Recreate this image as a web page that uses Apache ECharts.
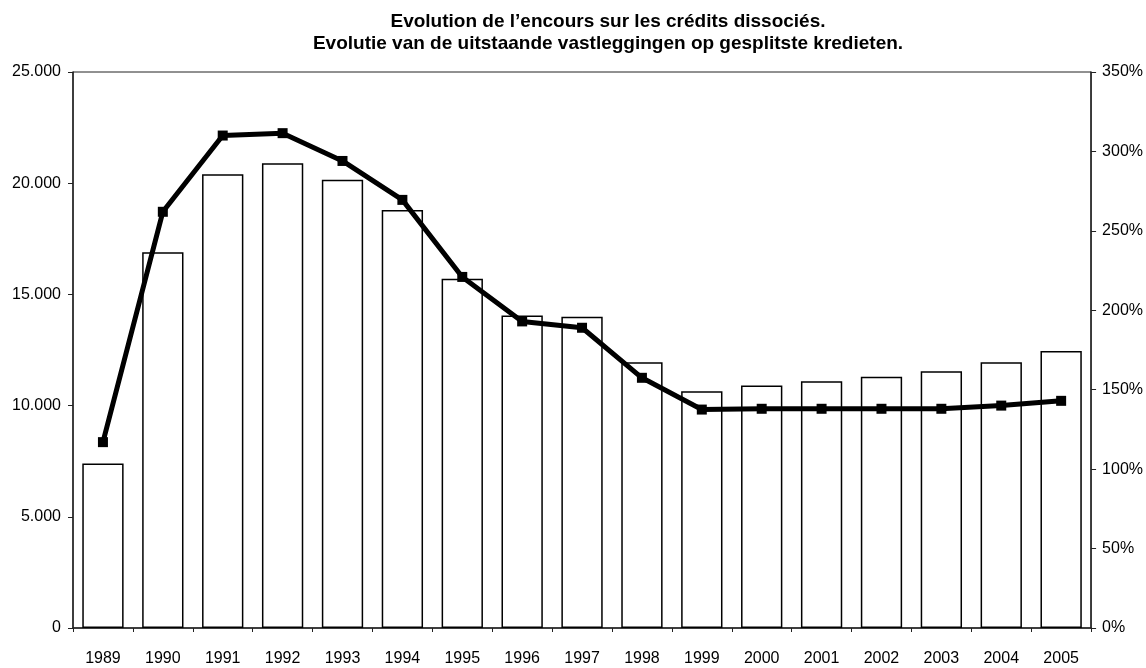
<!DOCTYPE html>
<html>
<head>
<meta charset="utf-8">
<title>Evolution de l'encours</title>
<script src="https://cdn.jsdelivr.net/npm/echarts@6/dist/echarts.min.js"></script>
<style>
 html, body { margin: 0; padding: 0; background: #fff; }
 #main { width: 1146px; height: 668px; }
</style>
</head>
<body>
<div id="main"></div>
<script>
// jaren / années
var years = ['1989','1990','1991','1992','1993','1994','1995','1996','1997',
             '1998','1999','2000','2001','2002','2003','2004','2005'];
// encours (staafjes, linker as)
var encours = [7400, 16900, 20400, 20900, 20150, 18800, 15700, 14050, 14000,
               11950, 10650, 10900, 11100, 11300, 11550, 11950, 12450];
// verhouding in % (lijn, rechter as)
var ratio = [117, 262, 310, 311.5, 294, 269.5, 221, 193, 189,
             157.5, 137.5, 138, 138, 138, 138, 140, 143];

var dom = document.getElementById('main');
var myChart = echarts.init(dom);
var font = 'Liberation Sans, Arial, sans-serif';

var option = {
  backgroundColor: '#fff',
  animation: false,
  title: {
    text: 'Evolution de l\u2019encours sur les crédits dissociés.\nEvolutie van de uitstaande vastleggingen op gesplitste kredieten.',
    left: 603,
    top: 6,
    textAlign: 'center',
    textStyle: {
      fontFamily: font,
      fontWeight: 'bold',
      fontSize: 19,
      lineHeight: 22,
      color: '#000'
    }
  },
  grid: {
    left: 73, right: 53, top: 72, bottom: 40,
    show: true,
    borderColor: '#222',
    borderWidth: 1
  },
  xAxis: [{
    type: 'category',
    data: years,
    axisLine: { lineStyle: { color: '#222', width: 1.5 } },
    axisTick: { show: true, length: 4, lineStyle: { color: '#222' } },
    axisLabel: {
      interval: 0,
      margin: 23,
      fontFamily: font,
      fontSize: 16,
      color: '#000'
    }
  }],
  yAxis: [{
    type: 'value',
    min: 0, max: 25000, interval: 5000,
    splitLine: { show: false }, // geen rasterlijnen
    axisLine: { show: true, lineStyle: { color: '#222', width: 1.5 } },
    axisTick: { show: true, length: 5, lineStyle: { color: '#222' } },
    axisLabel: {
      margin: 12,
      fontFamily: font,
      fontSize: 16,
      color: '#000',
      formatter: function (v) {
        return v === 0 ? '0' : (v / 1000).toFixed(3);
      }
    }
  }, {
    type: 'value',
    min: 0, max: 350, interval: 50,
    splitLine: { show: false },
    axisLine: { show: true, lineStyle: { color: '#222', width: 1.5 } },
    axisTick: { show: true, length: 5, lineStyle: { color: '#222' } },
    axisLabel: {
      margin: 11,
      fontFamily: font,
      fontSize: 16,
      color: '#000',
      formatter: '{value}%'
    }
  }],
  series: [{
    name: 'encours',
    type: 'bar',
    yAxisIndex: 0,
    barWidth: '69%',
    itemStyle: {
      color: '#fff',
      borderColor: '#000',
      borderWidth: 1.5
    },
    data: encours
  }, {
    name: 'ratio',
    type: 'line',
    yAxisIndex: 1,
    symbol: 'rect',
    symbolSize: 10,
    lineStyle: { color: '#000', width: 5 },
    itemStyle: { color: '#000' },
    z: 5,
    data: ratio
  }]
};
myChart.setOption(option);
</script>
</body>
</html>
